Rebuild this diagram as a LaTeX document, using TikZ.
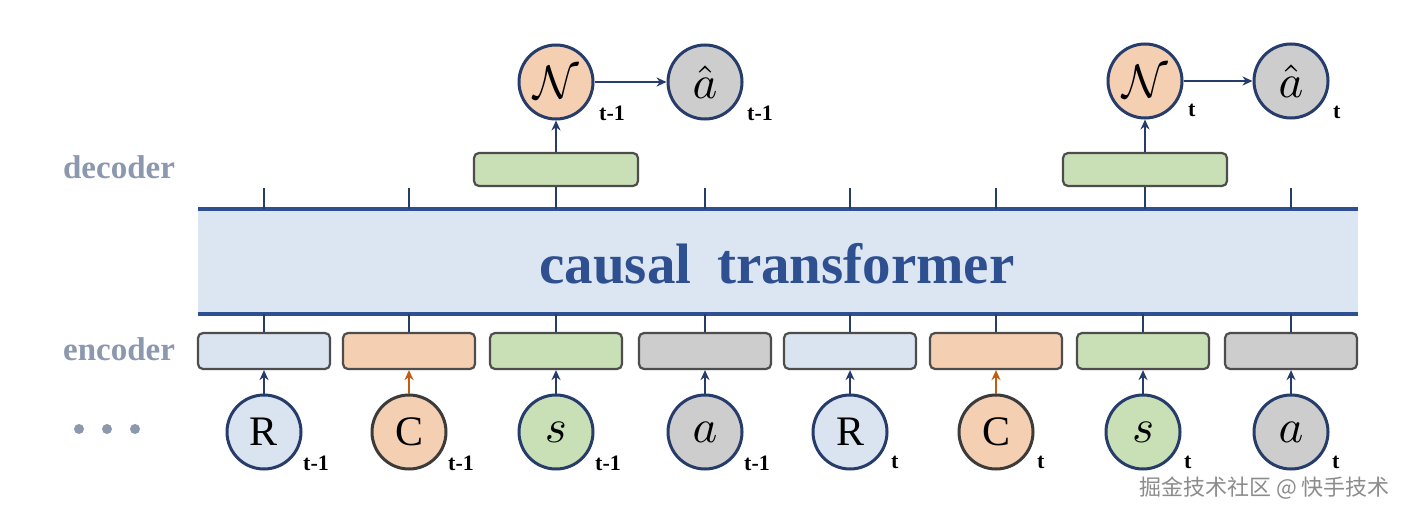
\documentclass[tikz,border=0pt]{standalone}
\usepackage{fontspec}
\setmainfont{Liberation Serif}
\newfontfamily\cjk{Noto Sans CJK SC}
\usetikzlibrary{arrows.meta}
\newcommand\mymath[1]{\scalebox{4.7}{\fontsize{10}{12}\selectfont$#1$}}
\definecolor{tblue}{HTML}{2E5090}
\definecolor{navy}{HTML}{263C6B}
\definecolor{bandfill}{HTML}{DCE6F2}
\definecolor{fblue}{HTML}{DAE3F0}
\definecolor{forange}{HTML}{F4CFB2}
\definecolor{fgreen}{HTML}{C9E0B6}
\definecolor{fgray}{HTML}{CDCDCD}
\definecolor{boxline}{HTML}{4D4D4D}
\definecolor{cline}{HTML}{3B3B3B}
\definecolor{oarrow}{HTML}{C55A11}
\definecolor{lbl}{HTML}{8C98AE}
\tikzset{
  encbox/.style={draw=boxline, line width=2.2pt, rounded corners=5pt, minimum width=132pt, minimum height=36pt, inner sep=0pt},
  decbox/.style={encbox, fill=fgreen, minimum width=164pt, minimum height=33pt},
  circ/.style={circle, draw=navy, line width=3pt, minimum size=74pt, inner sep=0pt, font=\fontsize{42}{42}\selectfont},
  sub/.style={font=\bfseries\fontsize{22}{22}\selectfont, text=black, anchor=west, inner sep=0pt},
  arr/.style={-{Stealth[length=10pt,width=9pt]}, line width=2pt, draw=navy},
  oarr/.style={arr, draw=oarrow},
  tick/.style={line width=2pt, draw=navy},
  side/.style={font=\bfseries\fontsize{33}{33}\selectfont, text=lbl},
}
\begin{document}
\begin{tikzpicture}[x=1pt,y=-1pt]
\useasboundingbox[fill=white] (0,0) rectangle (1404,514);
% band
\node[fill=bandfill, minimum width=1160pt, minimum height=105pt, inner sep=0pt] (band) at (778,261.5) {};
\draw[line width=4pt, draw=tblue] (band.north west) -- (band.north east);
\draw[line width=4pt, draw=tblue] (band.south west) -- (band.south east);
\node[anchor=base, text=tblue, font=\bfseries\fontsize{57}{57}\selectfont] (title) at (777,283) {causal\hspace{0.45em}transformer};
% side labels
\node[side, anchor=base] (declbl) at (119,178) {decoder};
\node[side, anchor=base] (enclbl) at (119,360) {encoder};
% dots
\foreach \x [count=\i] in {79,107,135} \fill[lbl] (\x,429) circle (5pt) coordinate (dot\i);
% encoder boxes
\foreach \x/\c [count=\i] in {264/fblue,409/forange,556/fgreen,705/fgray,850/fblue,996/forange,1143/fgreen,1291/fgray}
  \node[encbox, fill=\c] (e\i) at (\x,351) {};
% circles
\node[circ, fill=fblue] (c1) at (264,432) {R};
\node[circ, fill=forange, draw=cline] (c2) at (409,432) {C};
\node[circ, fill=fgreen] (c3) at (556,432) {\mymath{s}};
\node[circ, fill=fgray] (c4) at (705,432) {\mymath{a}};
\node[circ, fill=fblue] (c5) at (850,432) {R};
\node[circ, fill=forange, draw=cline] (c6) at (996,432) {C};
\node[circ, fill=fgreen] (c7) at (1143,432) {\mymath{s}};
\node[circ, fill=fgray] (c8) at (1291,432) {\mymath{a}};
\foreach \i in {1,3,4,5,7,8} \draw[arr] (c\i.north) -- (e\i.south);
\foreach \i in {2,6} \draw[oarr] (c\i.north) -- (e\i.south);
% subscripts
\foreach \i in {1,2,3,4} \node[sub] (sb\i) at ([xshift=39pt,yshift=-31pt]c\i.center) {t-1};
\foreach \i in {5,6,7,8} \node[sub] (sb\i) at ([xshift=41pt,yshift=-30pt]c\i.center) {t};
% ticks below band
\foreach \i in {1,...,8} \draw[tick] (e\i.north) -- (e\i.north |- band.south);
% decoder boxes
\node[decbox] (d1) at (556,169.5) {};
\node[decbox] (d2) at (1145,169.5) {};
\draw[tick] (d1.south) -- (d1.south |- band.north);
\draw[tick] (d2.south) -- (d2.south |- band.north);
\foreach \i in {1,2,4,5,6,8} {
  \coordinate (tt\i) at ([yshift=21pt]e\i.north |- band.north);
  \draw[tick] (tt\i) -- (e\i.north |- band.north);
}
% top circles
\node[circ, fill=forange] (n1) at (556,82) {\mymath{\mathcal{N}}};
\node[circ, fill=fgray] (h1) at (705,82) {\mymath{\hat{a}}};
\node[circ, fill=forange] (n2) at (1145,81) {\mymath{\mathcal{N}}};
\node[circ, fill=fgray] (h2) at (1291,81) {\mymath{\hat{a}}};
\draw[arr] (d1.north) -- (n1.south);
\draw[arr] (d2.north) -- (n2.south);
\draw[arr] (n1.east) -- (h1.west);
\draw[arr] (n2.east) -- (h2.west);
\node[sub] (sn1) at ([xshift=43pt,yshift=-31pt]n1.center) {t-1};
\node[sub] (sh1) at ([xshift=42pt,yshift=-31pt]h1.center) {t-1};
\node[sub] (sn2) at ([xshift=43pt,yshift=-29pt]n2.center) {t};
\node[sub] (sh2) at ([xshift=42pt,yshift=-31pt]h2.center) {t};
% watermark
\node[anchor=east, text=black!45, font=\cjk\fontsize{22}{22}\selectfont, inner sep=0pt] (wm) at (1390,488) {掘金技术社区 @ 快手技术};
\end{tikzpicture}
\end{document}
